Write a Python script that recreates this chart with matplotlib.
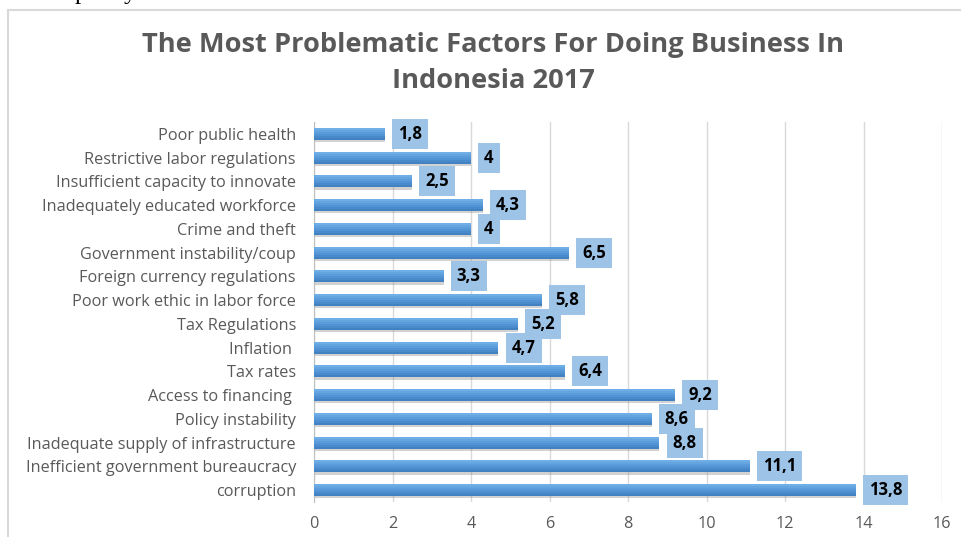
import matplotlib.pyplot as plt
from matplotlib.patches import Rectangle

factors = [
    "Poor public health",
    "Restrictive labor regulations",
    "Insufficient capacity to innovate",
    "Inadequately educated workforce",
    "Crime and theft",
    "Government instability/coup",
    "Foreign currency regulations",
    "Poor work ethic in labor force",
    "Tax Regulations",
    "Inflation ",
    "Tax rates",
    "Access to financing ",
    "Policy instability",
    "Inadequate supply of infrastructure",
    "Inefficient government bureaucracy",
    "corruption",
]
scores = [1.8, 4, 2.5, 4.3, 4, 6.5, 3.3, 5.8, 5.2, 4.7, 6.4, 9.2, 8.6, 8.8, 11.1, 13.8]
xticks = [0, 2, 4, 6, 8, 10, 12, 14, 16]

grey = "#595959"

fig = plt.figure(figsize=(9.62, 5.37), dpi=100)

# page text cut off above the chart (only descenders show)
fig.text(75 / 962, 1 + 1 / 537, "policy", family="Liberation Serif", fontsize=18,
         color="black", va="baseline", ha="left")

# chart frame
fig.patches.append(Rectangle((8 / 962, -0.1), 1.2, 1 - 10 / 537 + 0.1, transform=fig.transFigure,
                             fill=False, edgecolor="#D9D9D9", lw=1.5))

fig.text(0.5 + 12 / 962, 1 - 63 / 537,
         "The Most Problematic Factors For Doing Business In\nIndonesia 2017",
         ha="center", va="center", family="Open Sans", weight="bold",
         fontsize=19.6, color=grey, linespacing=1.48)

ax = fig.add_axes([314 / 962, 1 - 502 / 537, 628 / 962, 380 / 537])

ypos = list(range(len(factors)))
# soft shadow under the bars
ax.barh([y + 0.1 for y in ypos], scores, height=0.5,
        color="#7f7f7f", alpha=0.35, zorder=2)
# bar body with a light-to-dark vertical shading
shades = ["#6FAEE6", "#64A5E0", "#5A9CDA", "#5193D4", "#498ACB", "#4281C2"]
h = 0.5 / len(shades)
for i, c in enumerate(shades):
    off = -0.25 + h * (i + 0.5)
    ax.barh([y + off for y in ypos], scores, height=h * 1.05, color=c, lw=0, zorder=3)

for y, s in zip(ypos, scores):
    txt = f"{s:g}".replace(".", ",")
    ax.annotate(txt, (s, y), xytext=(9.5, 0), textcoords="offset points",
                ha="left", va="center", family="Open Sans", weight="bold",
                fontsize=12, color="black", zorder=4,
                bbox=dict(boxstyle="square,pad=0.36", facecolor="#9DC3E6",
                          edgecolor="none"))

ax.set_xlim(0, 16)
ax.set_ylim(len(factors) - 0.5, -0.5)
ax.set_xticks(xticks)
ax.set_yticks(ypos)
ax.set_yticklabels(factors)
ax.tick_params(axis="y", length=0, pad=13, labelsize=11.7, labelcolor=grey)
ax.tick_params(axis="x", length=0, pad=10, labelsize=11.7, labelcolor=grey)
for lab in ax.get_yticklabels() + ax.get_xticklabels():
    lab.set_family("Open Sans")

ax.grid(axis="x", color="#D9D9D9", lw=1, zorder=0)
for side in ["top", "right", "bottom"]:
    ax.spines[side].set_visible(False)
ax.spines["left"].set_color("#BFBFBF")

plt.savefig("out.png", dpi=100)
